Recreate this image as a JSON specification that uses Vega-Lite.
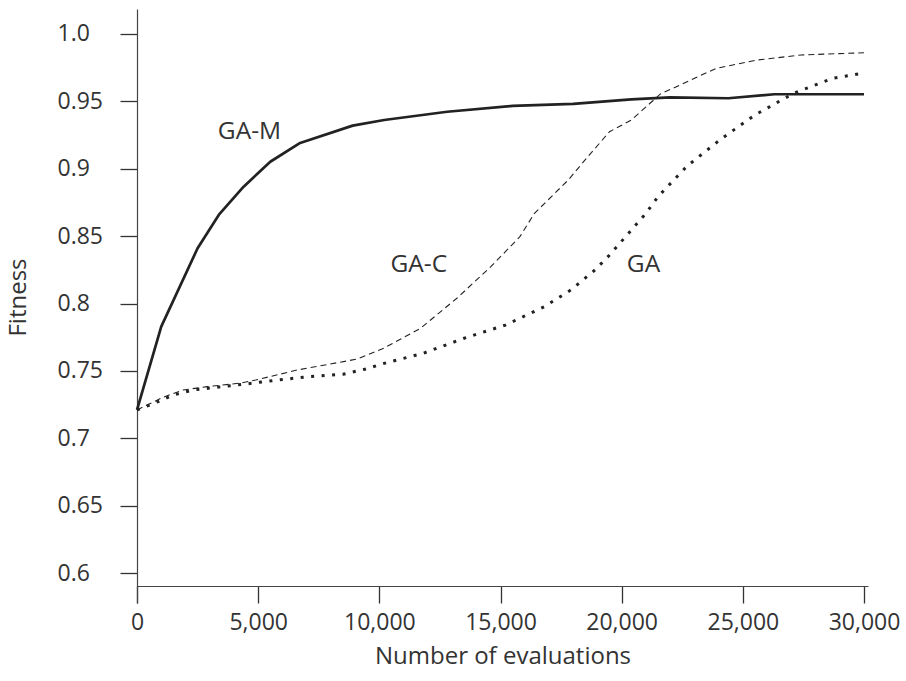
{
  "$schema": "https://vega.github.io/schema/vega-lite/v6.json",
  "width": 731,
  "height": 594,
  "autosize": {"type": "none"},
  "padding": {"left": 137, "top": 9, "right": 38, "bottom": 78},
  "config": {
    "view": {"stroke": null},
    "font": "Open Sans",
    "axis": {
      "grid": false,
      "domainColor": "#444",
      "domainWidth": 1.2,
      "tickColor": "#333",
      "tickWidth": 1.3,
      "tickSize": 17,
      "labelColor": "#333",
      "labelFont": "Open Sans",
      "labelFontSize": 23,
      "titleFont": "Open Sans",
      "titleFontSize": 24,
      "titleFontWeight": "normal",
      "titleColor": "#333"
    }
  },
  "datasets": {
    "curves": [
      {"s": "GA-M", "x": 0, "y": 0.721},
      {"s": "GA-M", "x": 1000, "y": 0.7828},
      {"s": "GA-M", "x": 2500, "y": 0.841},
      {"s": "GA-M", "x": 3400, "y": 0.8664},
      {"s": "GA-M", "x": 4400, "y": 0.8867},
      {"s": "GA-M", "x": 5500, "y": 0.9052},
      {"s": "GA-M", "x": 6700, "y": 0.9189},
      {"s": "GA-M", "x": 8900, "y": 0.932},
      {"s": "GA-M", "x": 10200, "y": 0.9362},
      {"s": "GA-M", "x": 12800, "y": 0.9423},
      {"s": "GA-M", "x": 15500, "y": 0.9466},
      {"s": "GA-M", "x": 18000, "y": 0.9481},
      {"s": "GA-M", "x": 20400, "y": 0.9515},
      {"s": "GA-M", "x": 22000, "y": 0.953},
      {"s": "GA-M", "x": 24400, "y": 0.9523},
      {"s": "GA-M", "x": 26300, "y": 0.9553},
      {"s": "GA-M", "x": 30000, "y": 0.9553},
      {"s": "GA-C", "x": 0, "y": 0.721},
      {"s": "GA-C", "x": 1100, "y": 0.7306},
      {"s": "GA-C", "x": 1900, "y": 0.7358},
      {"s": "GA-C", "x": 2900, "y": 0.7383},
      {"s": "GA-C", "x": 4300, "y": 0.741},
      {"s": "GA-C", "x": 4900, "y": 0.7432},
      {"s": "GA-C", "x": 6600, "y": 0.7506},
      {"s": "GA-C", "x": 9100, "y": 0.7588},
      {"s": "GA-C", "x": 10200, "y": 0.767},
      {"s": "GA-C", "x": 11700, "y": 0.7816},
      {"s": "GA-C", "x": 13200, "y": 0.8039},
      {"s": "GA-C", "x": 14600, "y": 0.8273},
      {"s": "GA-C", "x": 15800, "y": 0.8496},
      {"s": "GA-C", "x": 16400, "y": 0.8669},
      {"s": "GA-C", "x": 17800, "y": 0.8917},
      {"s": "GA-C", "x": 18600, "y": 0.9089},
      {"s": "GA-C", "x": 19500, "y": 0.9275},
      {"s": "GA-C", "x": 20400, "y": 0.9362},
      {"s": "GA-C", "x": 21600, "y": 0.9555},
      {"s": "GA-C", "x": 23900, "y": 0.9745},
      {"s": "GA-C", "x": 25600, "y": 0.9807},
      {"s": "GA-C", "x": 27400, "y": 0.9844},
      {"s": "GA-C", "x": 30000, "y": 0.9861},
      {"s": "GA", "x": 0, "y": 0.721},
      {"s": "GA", "x": 700, "y": 0.7259},
      {"s": "GA", "x": 1500, "y": 0.7321},
      {"s": "GA", "x": 2300, "y": 0.7358},
      {"s": "GA", "x": 4500, "y": 0.7403},
      {"s": "GA", "x": 5800, "y": 0.7432},
      {"s": "GA", "x": 7100, "y": 0.7457},
      {"s": "GA", "x": 8500, "y": 0.7475},
      {"s": "GA", "x": 9400, "y": 0.7512},
      {"s": "GA", "x": 10200, "y": 0.7556},
      {"s": "GA", "x": 11800, "y": 0.763},
      {"s": "GA", "x": 13500, "y": 0.7742},
      {"s": "GA", "x": 15200, "y": 0.784},
      {"s": "GA", "x": 16800, "y": 0.7976},
      {"s": "GA", "x": 17900, "y": 0.81},
      {"s": "GA", "x": 18900, "y": 0.8249},
      {"s": "GA", "x": 19500, "y": 0.836},
      {"s": "GA", "x": 20400, "y": 0.8545},
      {"s": "GA", "x": 21000, "y": 0.8669},
      {"s": "GA", "x": 21500, "y": 0.8793},
      {"s": "GA", "x": 22700, "y": 0.902},
      {"s": "GA", "x": 24100, "y": 0.9221},
      {"s": "GA", "x": 25500, "y": 0.9399},
      {"s": "GA", "x": 27100, "y": 0.956},
      {"s": "GA", "x": 28700, "y": 0.9671},
      {"s": "GA", "x": 30000, "y": 0.9711}
    ],
    "labels": [
      {"label": "GA-M", "x": 4640, "y": 0.9275},
      {"label": "GA-C", "x": 11630, "y": 0.8286},
      {"label": "GA", "x": 20900, "y": 0.8286}
    ]
  },
  "encoding": {
    "x": {
      "field": "x",
      "type": "quantitative",
      "scale": {"domain": [0, 30165], "nice": false, "zero": false},
      "axis": {
        "orient": "bottom",
        "offset": -17,
        "values": [0, 5000, 10000, 15000, 20000, 25000, 30000],
        "labelExpr": "format(datum.value, ',.0f')",
        "labelPadding": 8,
        "labelFlush": false,
        "labelOverlap": false,
        "title": "Number of evaluations",
        "titleBaseline": "alphabetic",
        "titleY": 77
      }
    },
    "y": {
      "field": "y",
      "type": "quantitative",
      "scale": {"domain": [0.57774, 1.01855], "nice": false, "zero": false},
      "axis": {
        "values": [0.6, 0.65, 0.7, 0.75, 0.8, 0.85, 0.9, 0.95, 1.0],
        "labelExpr": "datum.value == 1 ? '1.0' : format(datum.value, '.2~f')",
        "labelAlign": "left",
        "labelPadding": 63,
        "labelFlush": false,
        "labelOverlap": false,
        "title": "Fitness",
        "titleBaseline": "alphabetic",
        "titleX": -112,
        "titleY": 288
      }
    }
  },
  "layer": [
    {
      "data": {"name": "curves"},
      "transform": [{"filter": "datum.s == 'GA'"}],
      "mark": {"type": "line", "color": "#222", "strokeWidth": 3, "strokeDash": [3, 7.5]}
    },
    {
      "data": {"name": "curves"},
      "transform": [{"filter": "datum.s == 'GA-C'"}],
      "mark": {"type": "line", "color": "#222", "strokeWidth": 1.1, "strokeDash": [6, 4]}
    },
    {
      "data": {"name": "curves"},
      "transform": [{"filter": "datum.s == 'GA-M'"}],
      "mark": {"type": "line", "color": "#222", "strokeWidth": 2.7, "strokeJoin": "round"}
    },
    {
      "data": {"name": "labels"},
      "mark": {"type": "text", "font": "Open Sans", "fontSize": 24.5, "color": "#333", "align": "center", "baseline": "middle"},
      "encoding": {
        "text": {"field": "label"}
      }
    }
  ]
}
